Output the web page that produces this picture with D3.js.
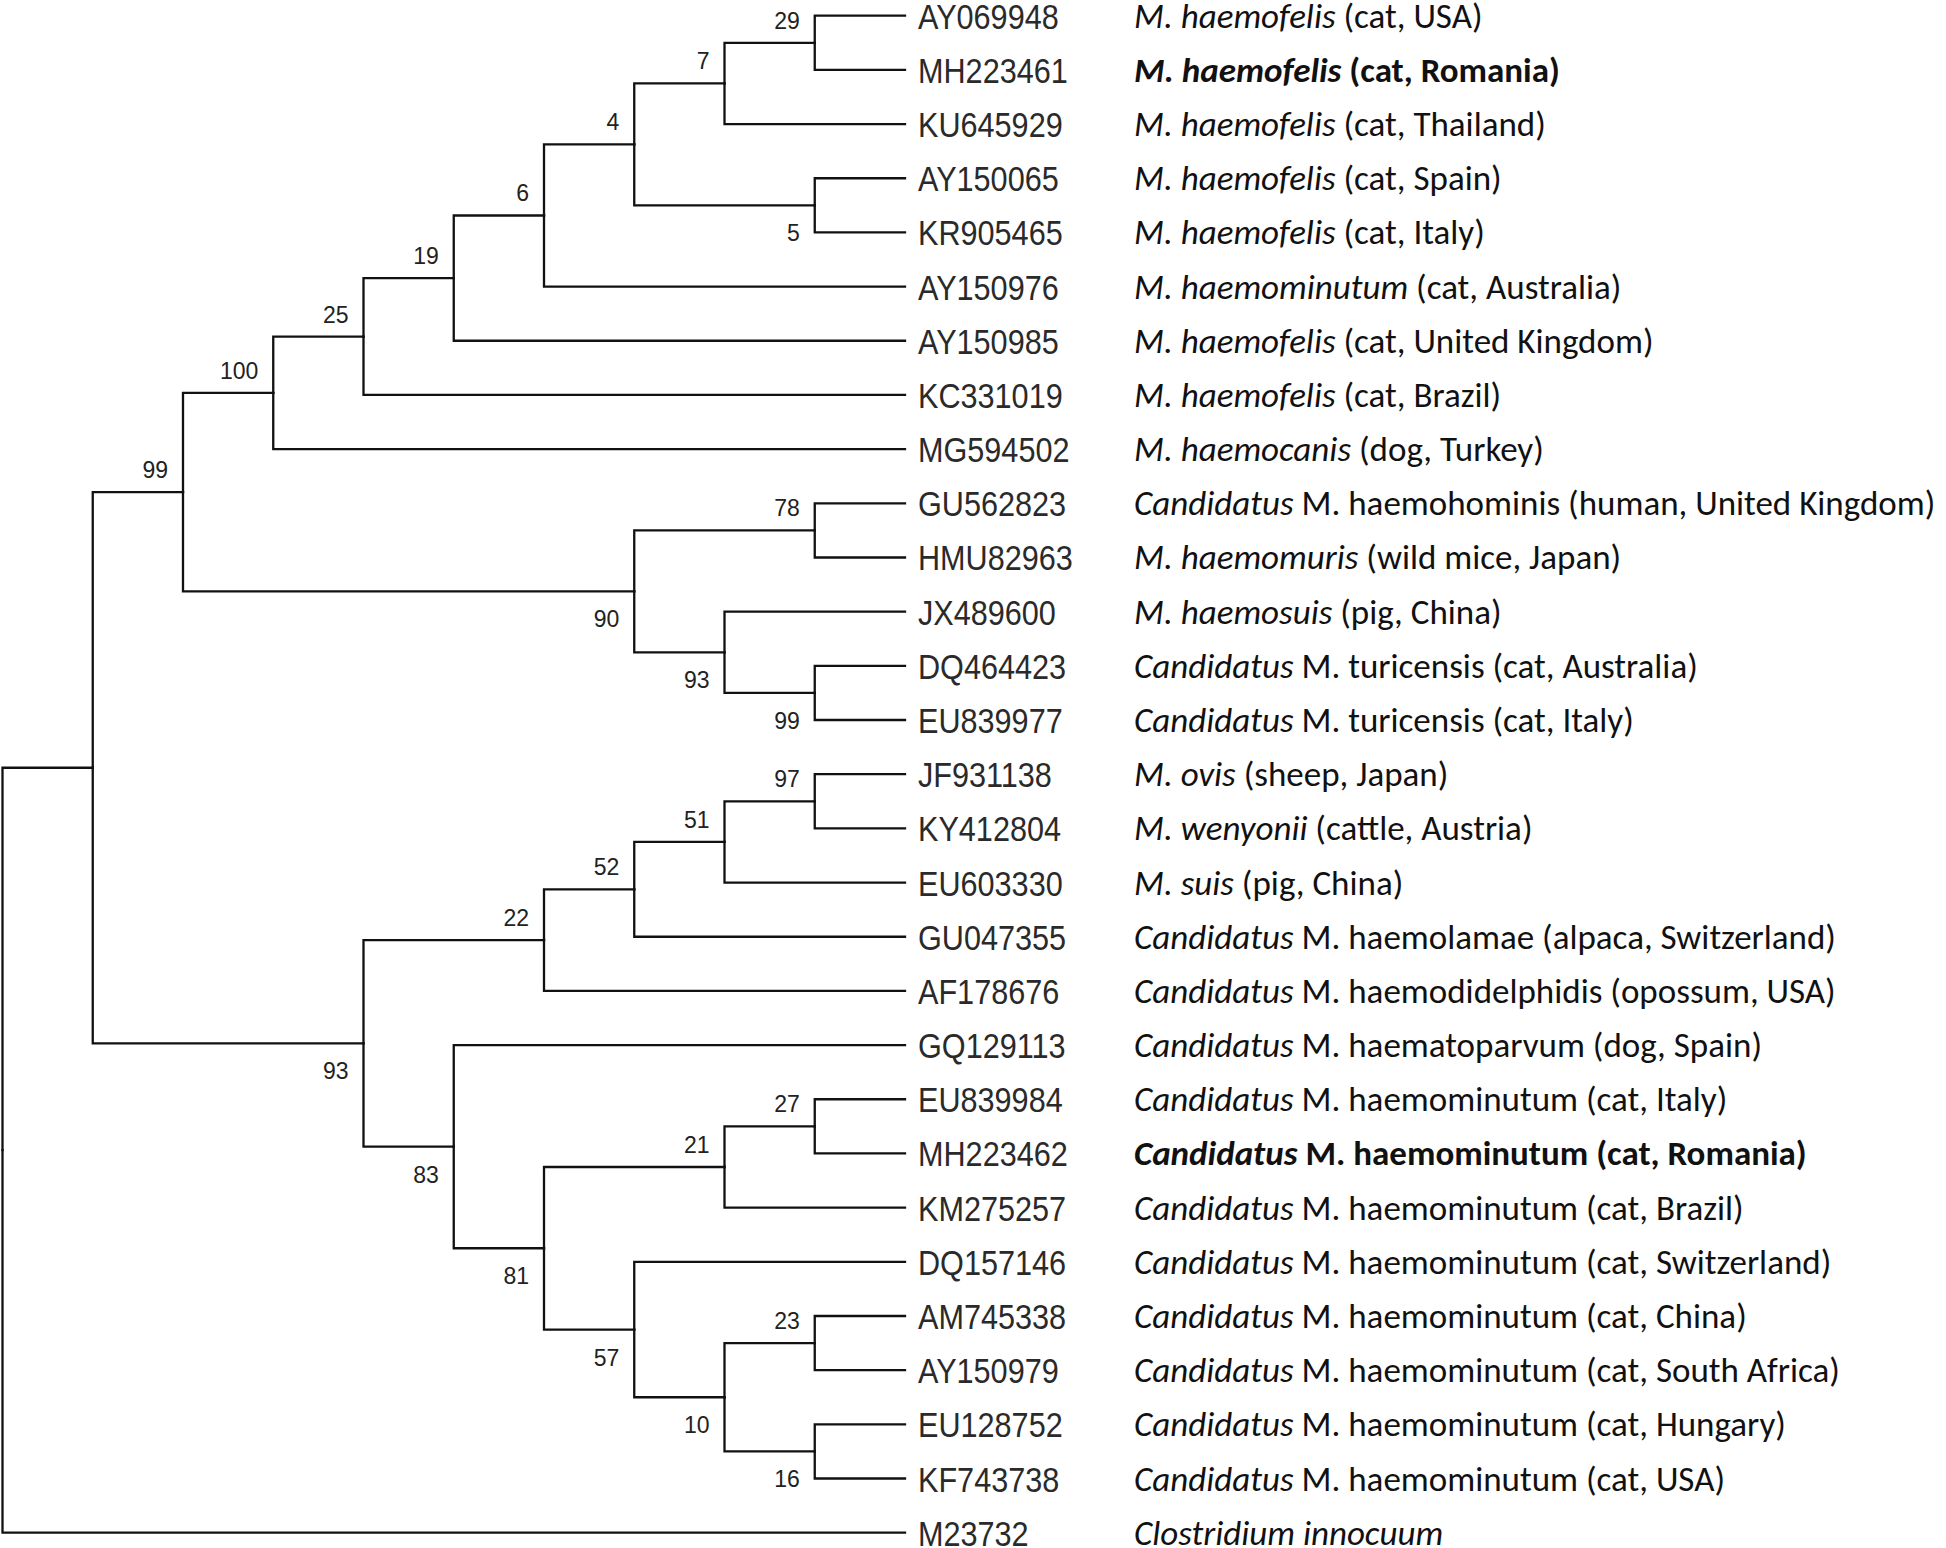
<!DOCTYPE html>
<html><head><meta charset="utf-8">
<script src="https://cdn.jsdelivr.net/npm/d3@7"></script>
<style>body{margin:0;background:#fff}</style>
</head><body>
<svg id="chart" width="1946" height="1548"></svg>
<script>
// Leaves, in the order they appear top to bottom
const accessions = ["AY069948","MH223461","KU645929","AY150065","KR905465","AY150976","AY150985","KC331019","MG594502",
  "GU562823","HMU82963","JX489600","DQ464423","EU839977","JF931138","KY412804","EU603330","GU047355","AF178676",
  "GQ129113","EU839984","MH223462","KM275257","DQ157146","AM745338","AY150979","EU128752","KF743738","M23732"];
// italic part of each description
const taxa = ["M. haemofelis","M. haemofelis","M. haemofelis","M. haemofelis","M. haemofelis","M. haemominutum","M. haemofelis","M. haemofelis","M. haemocanis",
  "Candidatus","M. haemomuris","M. haemosuis","Candidatus","Candidatus","M. ovis","M. wenyonii","M. suis","Candidatus","Candidatus",
  "Candidatus","Candidatus","Candidatus","Candidatus","Candidatus","Candidatus","Candidatus","Candidatus","Candidatus","Clostridium innocuum"];
// upright part of each description
const hosts = [" (cat, USA)"," (cat, Romania)"," (cat, Thailand)"," (cat, Spain)"," (cat, Italy)"," (cat, Australia)"," (cat, United Kingdom)"," (cat, Brazil)"," (dog, Turkey)",
  " M. haemohominis (human, United Kingdom)"," (wild mice, Japan)"," (pig, China)"," M. turicensis (cat, Australia)"," M. turicensis (cat, Italy)"," (sheep, Japan)"," (cattle, Austria)"," (pig, China)"," M. haemolamae (alpaca, Switzerland)"," M. haemodidelphidis (opossum, USA)",
  " M. haematoparvum (dog, Spain)"," M. haemominutum (cat, Italy)"," M. haemominutum (cat, Romania)"," M. haemominutum (cat, Brazil)"," M. haemominutum (cat, Switzerland)"," M. haemominutum (cat, China)"," M. haemominutum (cat, South Africa)"," M. haemominutum (cat, Hungary)"," M. haemominutum (cat, USA)",""];
const boldRows = ["MH223461","MH223462"];
// Clades: [id, upper child, lower child, bootstrap]
const clades = [
  ["N29","AY069948","MH223461",29],
  ["N7","N29","KU645929",7],
  ["N5","AY150065","KR905465",5],
  ["N4","N7","N5",4],
  ["N6","N4","AY150976",6],
  ["N19","N6","AY150985",19],
  ["N25","N19","KC331019",25],
  ["N100","N25","MG594502",100],
  ["N78","GU562823","HMU82963",78],
  ["N99b","DQ464423","EU839977",99],
  ["N93b","JX489600","N99b",93],
  ["N90","N78","N93b",90],
  ["N99","N100","N90",99],
  ["N97","JF931138","KY412804",97],
  ["N51","N97","EU603330",51],
  ["N52","N51","GU047355",52],
  ["N22","N52","AF178676",22],
  ["N27","EU839984","MH223462",27],
  ["N21","N27","KM275257",21],
  ["N23","AM745338","AY150979",23],
  ["N16","EU128752","KF743738",16],
  ["N10","N23","N16",10],
  ["N57","DQ157146","N10",57],
  ["N81","N21","N57",81],
  ["N83","GQ129113","N81",83],
  ["N93","N22","N83",93],
  ["L1","N99","N93",null],
  ["root","L1","M23732",null]
];

const cladeMap = new Map(clades.map(c => [c[0], c]));
function build(id) {
  const c = cladeMap.get(id);
  if (!c) return {name: id};
  return {name: id, bootstrap: c[3], children: [build(c[1]), build(c[2])]};
}
const root = d3.hierarchy(build("root"));
d3.cluster().nodeSize([1, 1]).separation(() => 1)(root);
const leaves = root.leaves();

const yS = d3.scaleLinear().domain([leaves[0].x, leaves[leaves.length - 1].x]).range([15.7, 1532.7]);
const xS = d3.scaleLinear().domain([0, root.height]).range([2.5, 905]);

const svg = d3.select("#chart");
svg.append("rect").attr("width", 1946).attr("height", 1548).attr("fill", "#fff");

svg.append("g").selectAll("path").data(root.links()).join("path")
  .attr("d", d => `M${xS(d.source.y)},${yS(d.source.x)}V${yS(d.target.x)}H${xS(d.target.y)}`)
  .attr("fill", "none").attr("stroke", "#111").attr("stroke-width", 2.3).attr("stroke-linecap", "square");

// bootstrap values
const inner = root.descendants().filter(d => d.children && d.data.bootstrap != null);
svg.append("g").selectAll("text").data(inner).join("text")
  .attr("x", d => xS(d.y) - 15)
  .attr("y", d => d.parent.children[0] === d ? yS(d.x) - 14 : yS(d.x) + 36)
  .attr("text-anchor", "end")
  .attr("font-family", "'Liberation Sans', Arial, sans-serif")
  .attr("font-size", 23).attr("fill", "#222")
  .text(d => d.data.bootstrap);

// accession numbers
svg.append("g").selectAll("text").data(leaves).join("text")
  .attr("transform", d => `translate(918,${yS(d.x) + 13}) scale(0.875,1)`)
  .attr("font-family", "'Liberation Sans', Arial, sans-serif")
  .attr("font-size", 35).attr("fill", "#2a2a2a")
  .text(d => d.data.name);

// descriptions
const desc = svg.append("g").selectAll("text").data(leaves).join("text")
  .attr("x", 1134).attr("y", d => yS(d.x) + 12)
  .attr("font-family", "Carlito, Calibri, Lato, sans-serif")
  .attr("font-size", 35).attr("fill", "#111")
  .attr("font-weight", d => boldRows.includes(d.data.name) ? "bold" : "normal");
desc.append("tspan").attr("font-style", "italic").text(d => taxa[accessions.indexOf(d.data.name)]);
desc.append("tspan").text(d => hosts[accessions.indexOf(d.data.name)]);
</script>
</body></html>
